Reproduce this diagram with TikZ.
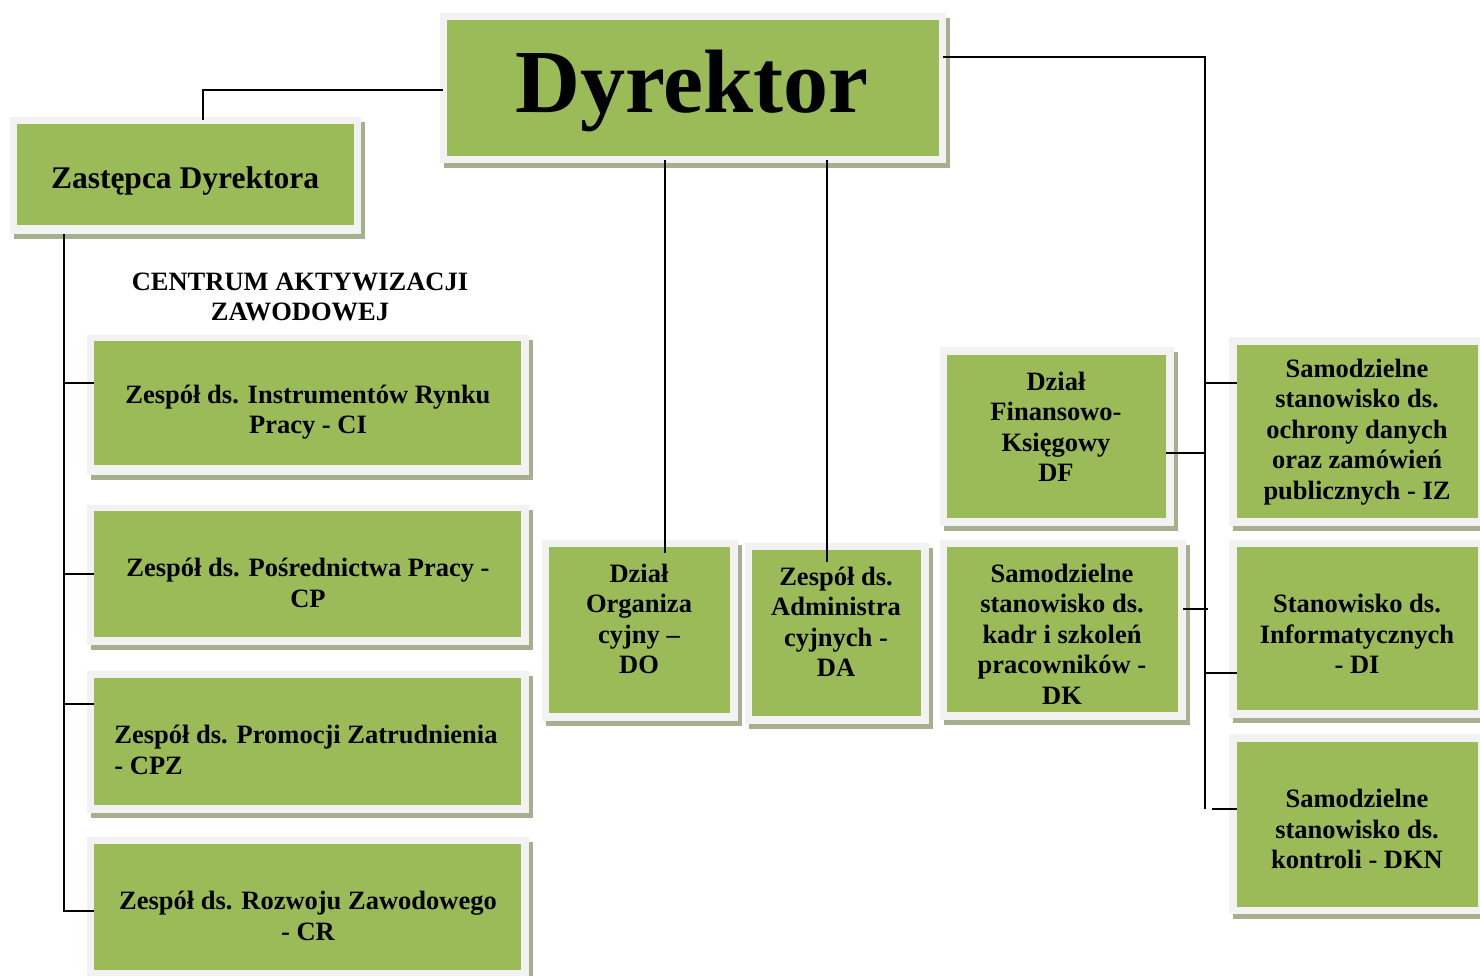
\documentclass[tikz,border=0pt]{standalone}
\usepackage{fontspec}
\setmainfont{Liberation Serif}
\definecolor{boxgreen}{HTML}{9BBB59}
\definecolor{framegray}{HTML}{F2F2F2}
\definecolor{shadowgreen}{HTML}{A6B08F}
\newcommand\orgframe[4]{%
  \fill[shadowgreen] (#1+4,#2+5) rectangle (#3+4,#4+5);
  \fill[framegray] (#1,#2) rectangle (#3,#4);
}
\begin{document}
\begin{tikzpicture}[x=1pt,y=-1pt,
  greenbox/.style={fill=boxgreen,draw=none,inner sep=0pt,outer sep=0pt},
  txt/.style={font=\bfseries\fontsize{26.5}{30.5}\selectfont,align=center,inner sep=0pt},
  conn/.style={draw=black,line width=1.6pt}]
\useasboundingbox[fill=white] (0,0) rectangle (1480,975);
% frames
\orgframe{440}{13}{946}{163}
\orgframe{10}{117}{361}{234}
\orgframe{87}{335}{529}{475}
\orgframe{87}{505}{529}{645}
\orgframe{87}{671}{529}{813}
\orgframe{87}{837}{529}{985}
\orgframe{542}{540}{738}{721}
\orgframe{745}{543}{929}{724}
\orgframe{940}{347}{1174}{526}
\orgframe{940}{540}{1186}{720}
\orgframe{1229}{337}{1495}{526}
\orgframe{1229}{540}{1495}{718}
\orgframe{1229}{734}{1495}{914}
% green boxes
\node[greenbox,minimum width=492pt,minimum height=136pt] (dyr) at (693,88) {};
\node[greenbox,minimum width=337pt,minimum height=101pt] (zast) at (185.5,174.5) {};
\node[greenbox,minimum width=427pt,minimum height=124pt] (ci) at (307.5,403) {};
\node[greenbox,minimum width=427pt,minimum height=126pt] (cp) at (307.5,574) {};
\node[greenbox,minimum width=427pt,minimum height=127pt] (cpz) at (307.5,741.5) {};
\node[greenbox,minimum width=427pt,minimum height=126pt] (cr) at (307.5,907) {};
\node[greenbox,minimum width=181pt,minimum height=166pt] (do) at (639.5,630) {};
\node[greenbox,minimum width=169pt,minimum height=166pt] (da) at (836.5,633) {};
\node[greenbox,minimum width=219pt,minimum height=163pt] (df) at (1056.5,436.5) {};
\node[greenbox,minimum width=231pt,minimum height=165pt] (dk) at (1062.5,629.5) {};
\node[greenbox,minimum width=241pt,minimum height=173pt] (iz) at (1357.5,431.5) {};
\node[greenbox,minimum width=241pt,minimum height=163pt] (di) at (1357.5,628.5) {};
\node[greenbox,minimum width=241pt,minimum height=165pt] (dkn) at (1357.5,824.5) {};
% texts
\node[txt,font=\bfseries\fontsize{90}{100}\selectfont] (dyrt) at (692,91) {Dyrektor};
\node[txt,font=\bfseries\fontsize{31.5}{36}\selectfont] (zastt) at (185,181) {Zastępca Dyrektora};
\node[txt] (cent) at (300,297) {CENTRUM AKTYWIZACJI\\ZAWODOWEJ};
\node[txt] (cit) at (308,412) {Zespół ds. Instrumentów Rynku\\Pracy - CI};
\node[txt] (cpt) at (308,583) {Zespół ds. Pośrednictwa Pracy -\\CP};
\node[txt,align=left] (cpzt) at (306,750) {Zespół ds. Promocji Zatrudnienia\\- CPZ};
\node[txt] (crt) at (308,916) {Zespół ds. Rozwoju Zawodowego\\- CR};
\node[txt] (dot) at (639,619) {Dział\\Organiza\\cyjny –\\DO};
\node[txt] (dat) at (836,622) {Zespół ds.\\Administra\\cyjnych -\\DA};
\node[txt] (dft) at (1056,427) {Dział\\Finansowo-\\Księgowy\\DF};
\node[txt] (dkt) at (1062,634) {Samodzielne\\stanowisko ds.\\kadr i szkoleń\\pracowników -\\DK};
\node[txt] (izt) at (1357,432) {Samodzielne\\stanowisko ds.\\ochrony danych\\oraz zamówień\\publicznych - IZ};
\node[txt] (dit) at (1357,634) {Stanowisko ds.\\Informatycznych\\- DI};
\node[txt] (dknt) at (1357,829) {Samodzielne\\stanowisko ds.\\kontroli - DKN};
% connectors
\draw[conn] ([xshift=-4pt,yshift=-2pt]dyr.west) -| ([xshift=17.5pt,yshift=4pt]zast.north);
\coordinate (lbus) at ([xshift=-121.5pt,yshift=-9pt]zast.south);
\draw[conn] (lbus) |- ([yshift=-4pt]cr.west);
\draw[conn] ([yshift=20pt]ci.west) -- ++(-30,0);
\draw[conn] (cp.west) -- ++(-30,0);
\draw[conn] ([yshift=37.5pt]cpz.west) -- ++(-30,0);
\draw[conn] ([xshift=-28pt,yshift=-4pt]dyr.south) -- ([xshift=25.5pt,yshift=-6pt]do.north);
\draw[conn] ([xshift=134pt,yshift=-4pt]dyr.south) -- ([xshift=-9.5pt,yshift=-12pt]da.north);
\coordinate (rbus) at ([xshift=-32pt,yshift=15.5pt]dkn.west);
\draw[conn] ([xshift=4pt,yshift=31pt]dyr.east) -| (rbus);
\draw[conn] ([yshift=15.5pt]dkn.west) -- ++(-25,0);
\draw[conn] ([yshift=48.5pt]iz.west) -- ++(-32,0);
\draw[conn] ([yshift=-16.5pt]df.east) -- ++(39,0);
\draw[conn] ([xshift=5pt,yshift=20.5pt]dk.east) -- ++(25,0);
\draw[conn] ([yshift=-44.5pt]di.west) -- ++(-32,0);
\end{tikzpicture}
\end{document}
